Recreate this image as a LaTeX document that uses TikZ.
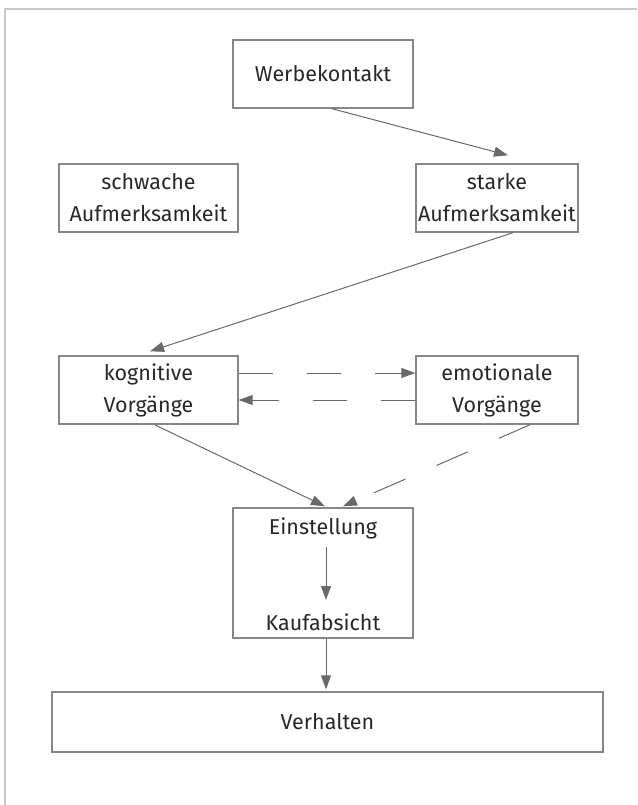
\documentclass[tikz,border=0pt]{standalone}
\usepackage{fontspec}
\setmainfont{Fira Sans}
\usepackage{xcolor}
\usetikzlibrary{arrows.meta}
\definecolor{framegray}{RGB}{200,200,200}
\definecolor{boxline}{RGB}{135,135,135}
\definecolor{arrowgray}{RGB}{105,105,105}
\definecolor{textgray}{RGB}{40,40,40}
\tikzset{
  stagebox/.style={
    rectangle,
    draw=boxline,
    line width=1.4pt,
    minimum height=68pt,
    align=center,
    inner sep=0pt,
    text=textgray,
    font=\fontsize{21.5}{32}\selectfont
  },
  plainlabel/.style={
    text=textgray,
    inner sep=2pt,
    font=\fontsize{21.5}{32}\selectfont
  },
  flow/.style={-{Triangle[length=14pt,width=10pt]}, line width=1pt, arrowgray},
  dashflow/.style={flow, dash pattern=on 34pt off 34pt}
}

\begin{document}
\begin{tikzpicture}[x=1pt,y=-1pt]
\useasboundingbox (0,0) rectangle (637,805);
\draw[framegray, line width=2pt] (5,805) -- (5,9) -- (637,9);

\node[stagebox, minimum width=180pt] (werbe) at (323,74) {Werbekontakt};
\node[stagebox, minimum width=179pt] (schwach) at (148.5,198) {schwache\\Aufmerksamkeit};
\node[stagebox, minimum width=162pt] (stark) at (497,198) {starke\\Aufmerksamkeit};
\node[stagebox, minimum width=179pt] (kogn) at (148.5,390) {kognitive\\Vorgänge};
\node[stagebox, minimum width=162pt] (emot) at (497,390) {emotionale\\Vorgänge};
% Einstellung und Kaufabsicht in einem Kasten
\node[stagebox, minimum width=180pt, minimum height=130pt] (attbox) at (323,573) {};
\node[plainlabel] (einst) at (323,528) {Einstellung};
\node[plainlabel] (kauf) at (323,622) {Kaufabsicht};
\node[stagebox, minimum width=551pt, minimum height=60pt] (verh) at (327.5,722) {Verhalten};

\draw[flow] ([xshift=9pt]werbe.south) -- ([xshift=11pt,yshift=8pt]stark.north);
\draw[flow] ([xshift=16pt]stark.south) -- ([xshift=1.5pt,yshift=4pt]kogn.north);
\draw[dashflow] ([yshift=17pt]kogn.east) -- ([yshift=17pt]emot.west);
\draw[dashflow] ([yshift=-10pt]emot.west) -- ([yshift=-10pt]kogn.east);
\draw[flow] ([xshift=6pt]kogn.south) -- ([xshift=2pt,yshift=1pt]attbox.north);
\draw[dashflow] ([xshift=33pt]emot.south) -- ([xshift=20pt,yshift=1pt]attbox.north);
\draw[flow] ([xshift=3pt,yshift=-19pt]einst.center) -- ([xshift=3pt,yshift=22pt]kauf.center);
\draw[flow] ([xshift=3pt]attbox.south) -- ([xshift=-1.5pt,yshift=2pt]verh.north);
\end{tikzpicture}
\end{document}
